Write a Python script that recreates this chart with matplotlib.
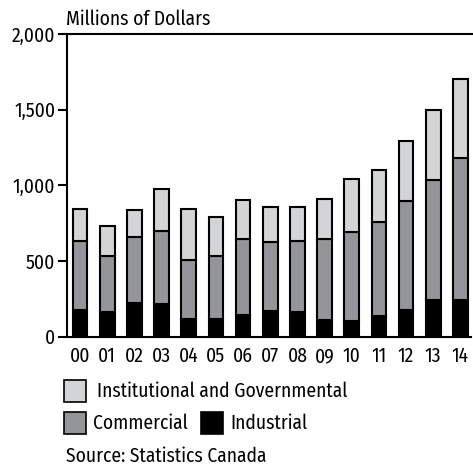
import matplotlib
matplotlib.use('Agg')
import matplotlib.pyplot as plt
from matplotlib.patches import Rectangle
import numpy as np

plt.rcParams['font.family'] = ['Fira Sans Condensed', 'DejaVu Sans']

years = ['00', '01', '02', '03', '04', '05', '06', '07', '08', '09', '10', '11', '12', '13', '14']
# stack tops (millions of dollars)
industrial = [177, 162, 225, 217, 117, 117, 142, 172, 164, 111, 102, 137, 177, 245, 245]
commercial_top = [632, 530, 656, 698, 508, 534, 645, 623, 634, 645, 693, 760, 899, 1033, 1179]
total = [845, 729, 837, 978, 845, 788, 905, 859, 859, 910, 1042, 1104, 1292, 1501, 1700]

commercial = [c - i for c, i in zip(commercial_top, industrial)]
institutional = [t - c for t, c in zip(total, commercial_top)]

light = '#d3d4d6'
mid = '#939598'
dark = '#000000'
fs = 14

W, H = 473, 467
fig = plt.figure(figsize=(W / 100, H / 100), dpi=100)
ax = fig.add_axes([66.7 / W, 1 - 336.7 / H, (471 - 66.7) / W, (336.7 - 34) / H])

x = np.arange(len(years))
bw = 0.54
kw = dict(width=bw, edgecolor='black', linewidth=1.5)
ax.bar(x, industrial, color=dark, **kw)
ax.bar(x, commercial, bottom=industrial, color=mid, **kw)
ax.bar(x, institutional, bottom=commercial_top, color=light, **kw)

ax.set_xlim(-0.49, 14.39)
ax.set_ylim(0, 2000)
ax.set_yticks([0, 500, 1000, 1500, 2000])
ax.set_yticklabels(['0', '500', '1,000', '1,500', '2,000'])
ax.set_xticks(x)
ax.set_xticklabels(years)
ax.tick_params(axis='y', length=6.3, width=1.5, direction='out', labelsize=fs, pad=2)
ax.tick_params(axis='x', length=0, labelsize=fs, pad=7)

for s in ['left', 'bottom', 'top']:
    ax.spines[s].set_linewidth(1.5)
ax.spines['right'].set_visible(False)
ax.spines['top'].set_bounds(-0.49, 14.6)
ax.spines['top'].set_clip_on(False)

fig.text(66 / W, 1 - 25 / H, 'Millions of Dollars', fontsize=fs, ha='left', va='baseline')

# legend drawn by hand
def swatch(x0, y0, color):
    fig.patches.append(Rectangle((x0 / W, 1 - (y0 + 22) / H), 22 / W, 22 / H,
                                 transform=fig.transFigure, facecolor=color,
                                 edgecolor='black', linewidth=1.2))

swatch(64, 380, light)
fig.text(97 / W, 1 - 391.5 / H, 'Institutional and Governmental', fontsize=fs, va='center')
swatch(64, 412, mid)
fig.text(93 / W, 1 - 423 / H, 'Commercial', fontsize=fs, va='center')
swatch(201, 412, dark)
fig.text(230 / W, 1 - 423 / H, 'Industrial', fontsize=fs, va='center')

fig.text(65.5 / W, 1 - 456 / H, 'Source: Statistics Canada', fontsize=fs, va='center')

fig.savefig('out.png', dpi=100)
